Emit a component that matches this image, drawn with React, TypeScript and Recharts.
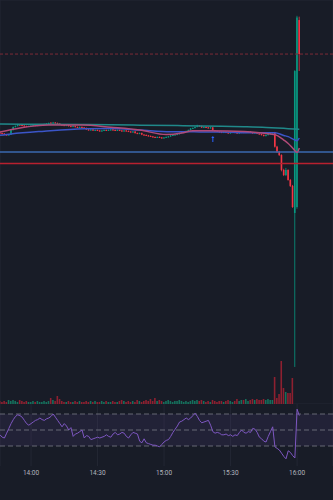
import React from 'react';
import {
  ComposedChart,
  Bar,
  Line,
  Cell,
  XAxis,
  YAxis,
  CartesianGrid,
  ReferenceLine,
  ReferenceArea,
  ReferenceDot,
} from 'recharts';

// 1-minute candles starting 13:46 (t = minutes since 13:46)
const opens = [
  100.38, 100.35, 100.32, 100.26, 100.24, 100.26, 100.53, 100.71, 100.76, 100.85,
  100.82, 100.79, 100.76, 100.74, 100.76, 100.79, 100.82, 100.79, 100.82, 100.83,
  100.85, 100.88, 100.91, 100.96, 100.94, 100.97, 100.94, 100.91, 100.85, 100.82,
  100.79, 100.82, 100.76, 100.74, 100.76, 100.71, 100.68, 100.71, 100.68, 100.65,
  100.56, 100.53, 100.56, 100.5, 100.53, 100.5, 100.47, 100.5, 100.53, 100.5,
  100.53, 100.56, 100.53, 100.5, 100.53, 100.5, 100.47, 100.5, 100.47, 100.44,
  100.41, 100.44, 100.35, 100.32, 100.35, 100.26, 100.24, 100.21, 100.18, 100.15,
  100.12, 100.09, 100.12, 100.09, 100.06, 100.09, 100.12, 100.15, 100.21, 100.24,
  100.26, 100.29, 100.35, 100.41, 100.44, 100.47, 100.53, 100.62, 100.65, 100.71,
  100.79, 100.76, 100.68, 100.71, 100.68, 100.65, 100.68, 100.5, 100.47, 100.44,
  100.41, 100.38, 100.41, 100.38, 100.35, 100.38, 100.41, 100.38, 100.35, 100.38,
  100.41, 100.38, 100.41, 100.44, 100.38, 100.35, 100.38, 100.32, 100.29, 100.24,
  100.18, 100.24, 100.29, 100.35, 100.38, 99.55, 99.25, 99.06, 98.18, 97.88,
  98.18, 97.59, 97.24, 95.65, 96.0, 107.0,
];
const highs = [
  100.41, 100.38, 100.35, 100.29, 100.3, 100.56, 100.74, 100.8, 100.89, 100.88,
  100.85, 100.82, 100.79, 100.8, 100.82, 100.85, 100.85, 100.85, 100.88, 100.88,
  100.91, 100.94, 100.97, 100.99, 101.01, 101.0, 100.97, 100.94, 100.88, 100.85,
  100.85, 100.85, 100.79, 100.79, 100.79, 100.74, 100.74, 100.74, 100.71, 100.68,
  100.59, 100.59, 100.59, 100.56, 100.56, 100.53, 100.53, 100.56, 100.56, 100.56,
  100.59, 100.59, 100.56, 100.56, 100.56, 100.53, 100.53, 100.53, 100.5, 100.47,
  100.47, 100.47, 100.38, 100.38, 100.38, 100.29, 100.27, 100.24, 100.21, 100.18,
  100.15, 100.15, 100.15, 100.12, 100.12, 100.15, 100.18, 100.24, 100.27, 100.29,
  100.32, 100.38, 100.44, 100.47, 100.5, 100.56, 100.65, 100.68, 100.74, 100.84,
  100.82, 100.79, 100.74, 100.74, 100.71, 100.71, 100.71, 100.53, 100.5, 100.47,
  100.44, 100.44, 100.44, 100.41, 100.41, 100.44, 100.44, 100.41, 100.41, 100.44,
  100.44, 100.44, 100.47, 100.47, 100.41, 100.41, 100.41, 100.35, 100.32, 100.27,
  100.27, 100.32, 100.38, 100.41, 100.42, 99.6, 99.3, 99.1, 98.25, 98.3,
  98.22, 97.65, 97.3, 104.05, 107.25, 107.2,
];
const lows = [
  100.32, 100.29, 100.23, 100.21, 100.21, 100.24, 100.5, 100.68, 100.74, 100.79,
  100.76, 100.73, 100.71, 100.71, 100.73, 100.76, 100.76, 100.76, 100.79, 100.8,
  100.82, 100.85, 100.88, 100.91, 100.91, 100.91, 100.88, 100.82, 100.79, 100.76,
  100.76, 100.73, 100.71, 100.71, 100.68, 100.65, 100.65, 100.65, 100.62, 100.53,
  100.5, 100.5, 100.47, 100.47, 100.47, 100.44, 100.44, 100.47, 100.47, 100.47,
  100.5, 100.5, 100.47, 100.47, 100.47, 100.44, 100.44, 100.44, 100.41, 100.38,
  100.38, 100.32, 100.29, 100.29, 100.23, 100.21, 100.18, 100.15, 100.12, 100.09,
  100.06, 100.06, 100.06, 100.03, 100.03, 100.06, 100.09, 100.12, 100.18, 100.21,
  100.23, 100.26, 100.32, 100.38, 100.41, 100.44, 100.5, 100.59, 100.62, 100.68,
  100.73, 100.65, 100.65, 100.65, 100.62, 100.62, 100.46, 100.44, 100.41, 100.38,
  100.35, 100.35, 100.35, 100.32, 100.32, 100.35, 100.35, 100.32, 100.32, 100.35,
  100.35, 100.35, 100.38, 100.35, 100.32, 100.32, 100.29, 100.26, 100.21, 100.15,
  100.15, 100.21, 100.26, 100.32, 99.5, 99.18, 99.0, 98.1, 97.82, 97.82,
  97.55, 97.18, 95.95, 86.59, 95.9, 104.0,
];
const closes = [
  100.35, 100.32, 100.26, 100.24, 100.26, 100.53, 100.71, 100.76, 100.85, 100.82,
  100.79, 100.76, 100.74, 100.76, 100.79, 100.82, 100.79, 100.82, 100.85, 100.85,
  100.88, 100.91, 100.94, 100.94, 100.97, 100.94, 100.91, 100.85, 100.82, 100.79,
  100.82, 100.76, 100.74, 100.76, 100.71, 100.68, 100.71, 100.68, 100.65, 100.56,
  100.53, 100.56, 100.5, 100.53, 100.5, 100.47, 100.5, 100.53, 100.5, 100.53,
  100.56, 100.53, 100.5, 100.53, 100.5, 100.47, 100.5, 100.47, 100.44, 100.41,
  100.44, 100.35, 100.32, 100.35, 100.26, 100.24, 100.21, 100.18, 100.15, 100.12,
  100.09, 100.12, 100.09, 100.06, 100.09, 100.12, 100.15, 100.21, 100.24, 100.26,
  100.29, 100.35, 100.41, 100.44, 100.47, 100.53, 100.62, 100.65, 100.71, 100.79,
  100.76, 100.68, 100.71, 100.68, 100.65, 100.68, 100.5, 100.47, 100.44, 100.41,
  100.38, 100.41, 100.38, 100.35, 100.38, 100.41, 100.38, 100.35, 100.38, 100.41,
  100.38, 100.41, 100.44, 100.38, 100.35, 100.38, 100.32, 100.29, 100.24, 100.18,
  100.24, 100.29, 100.35, 100.38, 99.55, 99.25, 99.06, 98.18, 97.88, 98.18,
  97.59, 97.24, 96.0, 104.0, 107.15, 105.0,
];
const volumes = [
  30, 20, 30, 20, 40, 30, 40, 30, 20, 40,
  30, 20, 30, 20, 20, 30, 20, 30, 20, 20,
  30, 20, 30, 60, 40, 30, 80, 50, 30, 20,
  20, 30, 20, 20, 30, 20, 30, 20, 20, 30,
  20, 30, 20, 30, 20, 20, 30, 20, 30, 20,
  20, 30, 20, 20, 30, 40, 30, 20, 30, 20,
  30, 20, 40, 30, 20, 30, 40, 30, 50, 30,
  60, 30, 40, 30, 20, 30, 40, 30, 20, 30,
  30, 40, 30, 20, 30, 20, 30, 40, 30, 40,
  30, 40, 30, 20, 30, 20, 40, 30, 20, 30,
  30, 20, 30, 40, 30, 20, 30, 50, 30, 40,
  40, 50, 30, 40, 50, 40, 50, 40, 40, 50,
  40, 50, 40, 40, 270, 60, 100, 430, 160, 120,
  110, 110, 260, 0, 0, 0,
];
const rsiValues = [
  44, 41, 40, 46, 52, 58, 63, 67, 69, 68,
  66, 62, 58, 56, 58, 60, 62, 63, 65, 63,
  62, 64, 65, 67, 70, 66, 62, 58, 54, 58,
  55, 50, 53, 42, 45, 46, 48, 50, 40, 43,
  42, 38, 39, 40, 41, 40, 41, 42, 44, 42,
  41, 45, 47, 44, 45, 47, 46, 42, 40, 44,
  47, 46, 45, 36, 34, 39, 34, 33, 32, 31,
  31, 30, 29, 32, 35, 37, 38, 42, 47, 51,
  55, 60, 61, 63, 65, 63, 65, 68, 71, 67,
  62, 59, 60, 61, 62, 56, 48, 46, 47, 46,
  44, 44, 45, 43, 44, 42, 44, 43, 47, 50,
  47, 46, 48, 47, 52, 51, 47, 41, 39, 36,
  35, 42, 48, 54, 29, 27, 25, 21, 17, 14,
  24, 22, 18, 15, 76, 68,
];

// moving averages, read at a few points
const maSlowT = [0, 20, 40, 60, 80, 100, 110, 120, 125, 130, 135];
const maSlowV = [100.88, 100.87, 100.85, 100.82, 100.79, 100.75, 100.72, 100.68, 100.65, 100.61, 100.57];
const maMidT = [0, 5, 20, 38, 50, 63, 77, 90, 100, 115, 124, 128, 130, 133, 134, 135];
const maMidV = [100.22, 100.3, 100.46, 100.6, 100.62, 100.53, 100.43, 100.42, 100.41, 100.37, 100.37, 100.21, 100.14, 99.94, 99.9, 100.06];
const maFastT = [0, 9, 22, 37, 50, 63, 75, 82, 87, 95, 110, 117, 122, 124, 128, 130, 132, 134, 135];
const maFastV = [100.41, 100.65, 100.82, 100.82, 100.69, 100.53, 100.26, 100.35, 100.49, 100.49, 100.44, 100.37, 100.29, 100.26, 99.94, 99.74, 99.47, 99.21, 99.47];

const signalT = 96;
const signalP = 100.0;

const levelDashed = 105.0;
const levelRed = 98.56;
const levelBlue = 99.24;

const priceTicks = [85, 86, 87, 88, 89, 90, 91, 92, 93, 94, 95, 96, 97, 98, 99, 100, 101, 102, 103, 104, 105, 106, 107, 108];
const timeTicks = [14, 44, 74, 104, 134];
const timeLabels = ['14:00', '14:30', '15:00', '15:30', '16:00'];
const rsiLevels = [70, 50, 30];

const BG = '#181c27';
const GRID = '#232734';
const UP = '#089981';
const DOWN = '#f23645';
const VOL_UP = '#15705c';
const VOL_DOWN = '#8e2030';
const X_DOMAIN: [number, number] = [0, 150.2];

const candles = closes.map((c, i) => ({
  t: i,
  open: opens[i],
  high: highs[i],
  low: lows[i],
  close: c,
  range: [lows[i], highs[i]],
  volume: volumes[i],
  rsi: rsiValues[i],
}));

const toPoints = (ts: number[], vs: number[]) => ts.map((t, i) => ({ t, v: vs[i] }));
const maSlow = toPoints(maSlowT, maSlowV);
const maMid = toPoints(maMidT, maMidV);
const maFast = toPoints(maFastT, maFastV);

const Candle = (props: any) => {
  const { x, y, width, height, payload } = props;
  if (!payload || height == null) return null;
  const { open, close, high, low } = payload;
  const cx = x + width / 2;
  const k = high === low ? 0 : height / (high - low);
  const yO = y + (high - open) * k;
  const yC = y + (high - close) * k;
  const color = close >= open ? UP : DOWN;
  const top = Math.min(yO, yC);
  const h = Math.max(Math.abs(yC - yO), 1);
  return (
    <g>
      <line x1={cx} x2={cx} y1={y} y2={y + height} stroke={color} strokeWidth={0.8} />
      <rect x={cx - 0.8} y={top} width={1.6} height={h} fill={color} />
    </g>
  );
};

const Arrow = (props: any) => {
  const { cx, cy } = props;
  if (cx == null || cy == null) return null;
  return (
    <path
      d={`M${cx},${cy - 3} L${cx + 1.6},${cy - 1} L${cx + 0.5},${cy - 1} L${cx + 0.5},${cy + 3} L${cx - 0.5},${cy + 3} L${cx - 0.5},${cy - 1} L${cx - 1.6},${cy - 1} Z`}
      fill="#2962ff"
    />
  );
};

const fmtTime = (v: number) => timeLabels[timeTicks.indexOf(v)] ?? '';

export default function App() {
  return (
    <div
      style={{
        position: 'absolute',
        left: 0,
        top: 0,
        width: 333,
        height: 500,
        background: BG,
        fontFamily: 'Roboto, sans-serif',
        overflow: 'hidden',
      }}
    >
      <ComposedChart width={333} height={404} data={candles} margin={{ top: 0, right: 0, bottom: 0, left: 0 }}>
        <CartesianGrid stroke={GRID} yAxisId="price" />
        <XAxis
          dataKey="t"
          type="number"
          domain={X_DOMAIN}
          allowDataOverflow
          ticks={timeTicks}
          height={0}
          tick={false}
          axisLine={false}
          tickLine={false}
        />
        <XAxis xAxisId="vol" dataKey="t" type="number" domain={X_DOMAIN} allowDataOverflow hide />
        <YAxis
          yAxisId="price"
          domain={[84.41, 108.18]}
          allowDataOverflow
          ticks={priceTicks}
          width={0}
          tick={false}
          axisLine={false}
          tickLine={false}
        />
        <YAxis yAxisId="vol" domain={[0, 4040]} allowDataOverflow hide />
        <ReferenceLine yAxisId="price" y={levelDashed} stroke="#7d2a37" strokeDasharray="3 2" />
        <ReferenceLine yAxisId="price" y={levelBlue} stroke="#3a68b0" strokeWidth={1.5} />
        <ReferenceLine yAxisId="price" y={levelRed} stroke="#b8202f" strokeWidth={1.3} />
        <Bar xAxisId="vol" yAxisId="vol" dataKey="volume" barSize={1.6} isAnimationActive={false}>
          {candles.map((d) => (
            <Cell key={d.t} fill={d.close >= d.open ? VOL_UP : VOL_DOWN} />
          ))}
        </Bar>
        <Line yAxisId="price" data={maSlow} dataKey="v" type="monotone" stroke="#20898a" strokeWidth={1.5} dot={false} activeDot={false} isAnimationActive={false} />
        <Line yAxisId="price" data={maMid} dataKey="v" type="monotone" stroke="#3b55c8" strokeWidth={1.5} dot={false} activeDot={false} isAnimationActive={false} />
        <Line yAxisId="price" data={maFast} dataKey="v" type="monotone" stroke="#b04a78" strokeWidth={1.5} dot={false} activeDot={false} isAnimationActive={false} />
        <Bar yAxisId="price" dataKey="range" barSize={2} shape={Candle} isAnimationActive={false} />
        <ReferenceDot yAxisId="price" x={signalT} y={signalP} shape={Arrow} />
      </ComposedChart>
      <ComposedChart width={333} height={96} data={candles} margin={{ top: 0, right: 0, bottom: 0, left: 0 }}>
        <CartesianGrid stroke={GRID} horizontal={false} />
        <XAxis
          dataKey="t"
          type="number"
          domain={X_DOMAIN}
          allowDataOverflow
          ticks={timeTicks}
          interval={0}
          tickFormatter={fmtTime}
          height={34}
          tickSize={0}
          tickMargin={4}
          axisLine={false}
          tickLine={false}
          tick={{ fill: '#b2b5be', fontSize: 6.5 }}
        />
        <YAxis domain={[5, 82.5]} allowDataOverflow width={0} tick={false} axisLine={false} tickLine={false} />
        <ReferenceArea y1={rsiLevels[2]} y2={rsiLevels[0]} fill="#7e57c2" fillOpacity={0.1} stroke="none" />
        {rsiLevels.map((lv) => (
          <ReferenceLine key={lv} y={lv} stroke="#787b86" strokeDasharray="5 3" strokeOpacity={0.8} />
        ))}
        <Line dataKey="rsi" type="linear" stroke="#7e57c2" strokeWidth={1} dot={false} activeDot={false} isAnimationActive={false} />
      </ComposedChart>
    </div>
  );
}
